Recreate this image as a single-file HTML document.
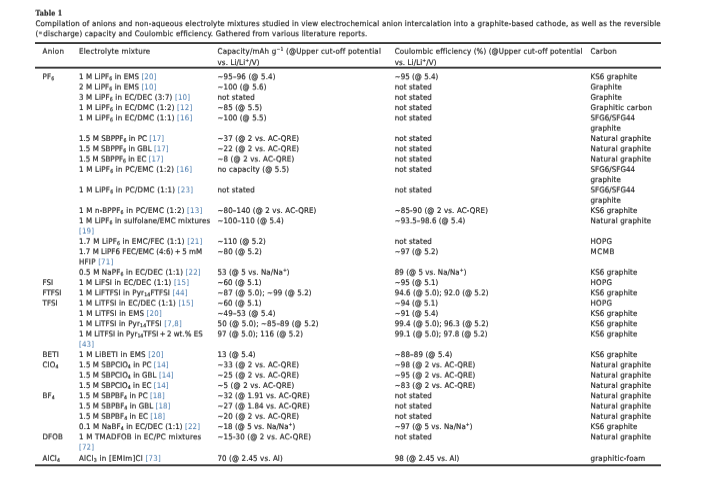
<!DOCTYPE html>
<html><head><meta charset="utf-8"><title>Table 1</title>
<style>
html,body{margin:0;padding:0;background:#fff;}
body{width:704px;height:488px;position:relative;overflow:hidden;font-family:"DejaVu Sans","Liberation Sans",sans-serif;letter-spacing:0.16px;}
.r{position:absolute;left:0;width:704px;height:10px;will-change:transform;transform-origin:0 7.46px;font-size:7.1px;line-height:10px;color:#1e1e1e;-webkit-text-stroke:0.16px #1e1e1e;}
.r.b{font-weight:bold;font-family:"DejaVu Serif Condensed","DejaVu Serif","Liberation Serif",serif;-webkit-text-stroke:0.15px #1e1e1e;}
.r span{position:absolute;top:0;white-space:nowrap;}
.r a{color:#4578ad;-webkit-text-stroke:0;}
.r sub{font-size:4.7px;vertical-align:baseline;position:relative;top:1.15px;line-height:0;}
.r i{font-style:normal;font-size:4.6px;position:relative;top:-0.6px;line-height:0;}
.r sup{font-size:4.6px;vertical-align:baseline;position:relative;top:-2.3px;line-height:0;}
svg.rules{position:absolute;left:0;top:0;}
</style></head><body>
<svg class="rules" width="704" height="488" viewBox="0 0 704 488"><rect x="35" y="42.1" width="626" height="1.9" fill="#3a3a3a"/><rect x="35" y="66.72" width="626" height="1.9" fill="#3a3a3a"/><rect x="35" y="464.35" width="626" height="1.9" fill="#3a3a3a"/></svg>
<div class="r b" style="top:8px;transform:translateY(0.24px) rotate(0.002deg) scaleY(1.08)"><span id="cap0" style="left:35.5px;letter-spacing:0.160px;">Table 1</span></div>
<div class="r " style="top:18px;transform:translateY(0.74px) rotate(0.002deg) scaleY(1.08)"><span id="cap1" style="left:35.5px;letter-spacing:0.164px;">Compilation of anions and non-aqueous electrolyte mixtures studied in view electrochemical anion intercalation into a graphite-based cathode, as well as the reversible</span></div>
<div class="r " style="top:28px;transform:translateY(0.84px) rotate(0.002deg) scaleY(1.08)"><span id="cap2" style="left:35.5px;letter-spacing:0.166px;">(<i>=</i> discharge) capacity and Coulombic efficiency. Gathered from various literature reports.</span></div>
<div class="r " style="top:46px;transform:translateY(0.39px) rotate(0.002deg) scaleY(1.08)"><span id="h0" style="left:42.5px;letter-spacing:0.330px;">Anion</span><span id="h1" style="left:79px;letter-spacing:0.199px;">Electrolyte mixture</span><span id="h2" style="left:217.5px;letter-spacing:0.178px;">Capacity/mAh g<sup>−1</sup> (@Upper cut-off potential</span><span id="h3" style="left:394.75px;letter-spacing:0.135px;">Coulombic efficiency (%) (@Upper cut-off potential</span><span id="h4" style="left:590.5px;">Carbon</span></div>
<div class="r " style="top:57px;transform:translateY(0.64px) rotate(0.002deg) scaleY(1.08)"><span id="h2b" style="left:217.5px;letter-spacing:0.122px;">vs. Li/Li<sup>+</sup>/V)</span><span id="h3b" style="left:394.75px;letter-spacing:0.102px;">vs. Li/Li<sup>+</sup>/V)</span></div>
<div class="r " style="top:71px;transform:translateY(0.84px) rotate(0.002deg) scaleY(1.08)"><span id="r0c0" style="left:42.5px;">PF<sub>6</sub></span><span id="r0c1" style="left:79px;letter-spacing:0.100px;">1 M LiPF<sub>6</sub> in EMS <a>[20]</a></span><span id="r0c2" style="left:217.5px;letter-spacing:0.160px;">~95–96 (@ 5.4)</span><span id="r0c3" style="left:394.75px;letter-spacing:0.024px;">~95 (@ 5.4)</span><span id="r0c4" style="left:590.5px;letter-spacing:0.089px;">KS6 graphite</span></div>
<div class="r " style="top:82px;transform:translateY(0.13px) rotate(0.002deg) scaleY(1.08)"><span id="r1c1" style="left:79px;letter-spacing:0.100px;">2 M LiPF<sub>6</sub> in EMS <a>[10]</a></span><span id="r1c2" style="left:217.5px;letter-spacing:0.098px;">~100 (@ 5.6)</span><span id="r1c3" style="left:394.75px;letter-spacing:0.085px;">not stated</span><span id="r1c4" style="left:590.5px;letter-spacing:0.073px;">Graphite</span></div>
<div class="r " style="top:92px;transform:translateY(0.42px) rotate(0.002deg) scaleY(1.08)"><span id="r2c1" style="left:79px;letter-spacing:0.168px;">3 M LiPF<sub>6</sub> in EC/DEC (3:7) <a>[10]</a></span><span id="r2c2" style="left:217.5px;letter-spacing:0.110px;">not stated</span><span id="r2c3" style="left:394.75px;letter-spacing:0.085px;">not stated</span><span id="r2c4" style="left:590.5px;letter-spacing:0.073px;">Graphite</span></div>
<div class="r " style="top:102px;transform:translateY(0.71px) rotate(0.002deg) scaleY(1.08)"><span id="r3c1" style="left:79px;letter-spacing:0.185px;">1 M LiPF<sub>6</sub> in EC/DMC (1:2) <a>[12]</a></span><span id="r3c2" style="left:217.5px;letter-spacing:0.115px;">~85 (@ 5.5)</span><span id="r3c3" style="left:394.75px;letter-spacing:0.085px;">not stated</span><span id="r3c4" style="left:590.5px;">Graphitic carbon</span></div>
<div class="r " style="top:113px;transform:translateY(0.00px) rotate(0.002deg) scaleY(1.08)"><span id="r4c1" style="left:79px;letter-spacing:0.185px;">1 M LiPF<sub>6</sub> in EC/DMC (1:1) <a>[16]</a></span><span id="r4c2" style="left:217.5px;letter-spacing:0.098px;">~100 (@ 5.5)</span><span id="r4c3" style="left:394.75px;letter-spacing:0.085px;">not stated</span><span id="r4c4" style="left:590.5px;letter-spacing:0.060px;">SFG6/SFG44</span></div>
<div class="r " style="top:123px;transform:translateY(0.29px) rotate(0.002deg) scaleY(1.08)"><span id="r5c4" style="left:590.5px;letter-spacing:0.054px;">graphite</span></div>
<div class="r " style="top:133px;transform:translateY(0.58px) rotate(0.002deg) scaleY(1.08)"><span id="r6c1" style="left:79px;letter-spacing:0.051px;">1.5 M SBPPF<sub>6</sub> in PC <a>[17]</a></span><span id="r6c2" style="left:217.5px;letter-spacing:0.147px;">~37 (@ 2 vs. AC-QRE)</span><span id="r6c3" style="left:394.75px;letter-spacing:0.085px;">not stated</span><span id="r6c4" style="left:590.5px;">Natural graphite</span></div>
<div class="r " style="top:143px;transform:translateY(0.87px) rotate(0.002deg) scaleY(1.08)"><span id="r7c1" style="left:79px;letter-spacing:0.025px;">1.5 M SBPPF<sub>6</sub> in GBL <a>[17]</a></span><span id="r7c2" style="left:217.5px;letter-spacing:0.147px;">~22 (@ 2 vs. AC-QRE)</span><span id="r7c3" style="left:394.75px;letter-spacing:0.085px;">not stated</span><span id="r7c4" style="left:590.5px;">Natural graphite</span></div>
<div class="r " style="top:154px;transform:translateY(0.16px) rotate(0.002deg) scaleY(1.08)"><span id="r8c1" style="left:79px;letter-spacing:0.008px;">1.5 M SBPPF<sub>6</sub> in EC <a>[17]</a></span><span id="r8c2" style="left:217.5px;letter-spacing:0.134px;">~8 (@ 2 vs. AC-QRE)</span><span id="r8c3" style="left:394.75px;letter-spacing:0.085px;">not stated</span><span id="r8c4" style="left:590.5px;">Natural graphite</span></div>
<div class="r " style="top:164px;transform:translateY(0.45px) rotate(0.002deg) scaleY(1.08)"><span id="r9c1" style="left:79px;letter-spacing:0.218px;">1 M LiPF<sub>6</sub> in PC/EMC (1:2) <a>[16]</a></span><span id="r9c2" style="left:217.5px;letter-spacing:0.121px;">no capacity (@ 5.5)</span><span id="r9c3" style="left:394.75px;letter-spacing:0.085px;">not stated</span><span id="r9c4" style="left:590.5px;letter-spacing:0.060px;">SFG6/SFG44</span></div>
<div class="r " style="top:174px;transform:translateY(0.74px) rotate(0.002deg) scaleY(1.08)"><span id="r10c4" style="left:590.5px;letter-spacing:0.054px;">graphite</span></div>
<div class="r " style="top:185px;transform:translateY(0.03px) rotate(0.002deg) scaleY(1.08)"><span id="r11c1" style="left:79px;letter-spacing:0.218px;">1 M LiPF<sub>6</sub> in PC/DMC (1:1) <a>[23]</a></span><span id="r11c2" style="left:217.5px;letter-spacing:0.110px;">not stated</span><span id="r11c3" style="left:394.75px;letter-spacing:0.085px;">not stated</span><span id="r11c4" style="left:590.5px;letter-spacing:0.060px;">SFG6/SFG44</span></div>
<div class="r " style="top:195px;transform:translateY(0.32px) rotate(0.002deg) scaleY(1.08)"><span id="r12c4" style="left:590.5px;letter-spacing:0.054px;">graphite</span></div>
<div class="r " style="top:205px;transform:translateY(0.61px) rotate(0.002deg) scaleY(1.08)"><span id="r13c1" style="left:79px;letter-spacing:0.215px;">1 M n-BPPF<sub>6</sub> in PC/EMC (1:2) <a>[13]</a></span><span id="r13c2" style="left:217.5px;letter-spacing:0.129px;">~80–140 (@ 2 vs. AC-QRE)</span><span id="r13c3" style="left:394.75px;letter-spacing:0.127px;">~85-90 (@ 2 vs. AC-QRE)</span><span id="r13c4" style="left:590.5px;letter-spacing:0.089px;">KS6 graphite</span></div>
<div class="r " style="top:215px;transform:translateY(0.90px) rotate(0.002deg) scaleY(1.08)"><span id="r14c1" style="left:79px;letter-spacing:0.124px;">1 M LiPF<sub>6</sub> in sulfolane/EMC mixtures</span><span id="r14c2" style="left:217.5px;letter-spacing:0.082px;">~100–110 (@ 5.4)</span><span id="r14c3" style="left:394.75px;letter-spacing:0.063px;">~93.5–98.6 (@ 5.4)</span><span id="r14c4" style="left:590.5px;">Natural graphite</span></div>
<div class="r " style="top:226px;transform:translateY(0.19px) rotate(0.002deg) scaleY(1.08)"><span id="r15c1" style="left:79px;"><a>[19]</a></span></div>
<div class="r " style="top:236px;transform:translateY(0.48px) rotate(0.002deg) scaleY(1.08)"><span id="r16c1" style="left:79px;letter-spacing:0.175px;">1.7 M LiPF<sub>6</sub> in EMC/FEC (1:1) <a>[21]</a></span><span id="r16c2" style="left:217.5px;letter-spacing:0.035px;">~110 (@ 5.2)</span><span id="r16c3" style="left:394.75px;letter-spacing:0.085px;">not stated</span><span id="r16c4" style="left:590.5px;letter-spacing:0.285px;">HOPG</span></div>
<div class="r " style="top:246px;transform:translateY(0.77px) rotate(0.002deg) scaleY(1.08)"><span id="r17c1" style="left:79px;letter-spacing:0.027px;">1.7 M LiPF6 FEC/EMC (4:6) + 5 mM</span><span id="r17c2" style="left:217.5px;letter-spacing:0.092px;">~80 (@ 5.2)</span><span id="r17c3" style="left:394.75px;letter-spacing:0.024px;">~97 (@ 5.2)</span><span id="r17c4" style="left:590.5px;letter-spacing:0.635px;">MCMB</span></div>
<div class="r " style="top:257px;transform:translateY(0.06px) rotate(0.002deg) scaleY(1.08)"><span id="r18c1" style="left:79px;letter-spacing:0.216px;">HFIP <a>[71]</a></span></div>
<div class="r " style="top:267px;transform:translateY(0.35px) rotate(0.002deg) scaleY(1.08)"><span id="r19c1" style="left:79px;">0.5 M NaPF<sub>6</sub> in EC/DEC (1:1) <a>[22]</a></span><span id="r19c2" style="left:217.5px;letter-spacing:0.068px;">53 (@ 5 vs. Na/Na<sup>+</sup>)</span><span id="r19c3" style="left:394.75px;letter-spacing:0.042px;">89 (@ 5 vs. Na/Na<sup>+</sup>)</span><span id="r19c4" style="left:590.5px;letter-spacing:0.089px;">KS6 graphite</span></div>
<div class="r " style="top:277px;transform:translateY(0.64px) rotate(0.002deg) scaleY(1.08)"><span id="r20c0" style="left:42.5px;letter-spacing:-0.007px;">FSI</span><span id="r20c1" style="left:79px;">1 M LiFSI in EC/DEC (1:1) <a>[15]</a></span><span id="r20c2" style="left:217.5px;letter-spacing:0.069px;">~60 (@ 5.1)</span><span id="r20c3" style="left:394.75px;letter-spacing:0.024px;">~95 (@ 5.1)</span><span id="r20c4" style="left:590.5px;letter-spacing:0.285px;">HOPG</span></div>
<div class="r " style="top:287px;transform:translateY(0.93px) rotate(0.002deg) scaleY(1.08)"><span id="r21c0" style="left:42.5px;letter-spacing:0.020px;">FTFSI</span><span id="r21c1" style="left:79px;">1 M LiFTFSI in Pyr<sub>14</sub>FTFSI <a>[44]</a></span><span id="r21c2" style="left:217.5px;letter-spacing:0.118px;">~87 (@ 5.0); ~99 (@ 5.2)</span><span id="r21c3" style="left:394.75px;letter-spacing:0.025px;">94.6 (@ 5.0); 92.0 (@ 5.2)</span><span id="r21c4" style="left:590.5px;letter-spacing:0.089px;">KS6 graphite</span></div>
<div class="r " style="top:298px;transform:translateY(0.22px) rotate(0.002deg) scaleY(1.08)"><span id="r22c0" style="left:42.5px;letter-spacing:0.060px;">TFSI</span><span id="r22c1" style="left:79px;">1 M LiTFSI in EC/DEC (1:1) <a>[15]</a></span><span id="r22c2" style="left:217.5px;letter-spacing:0.069px;">~60 (@ 5.1)</span><span id="r22c3" style="left:394.75px;letter-spacing:-0.022px;">~94 (@ 5.1)</span><span id="r22c4" style="left:590.5px;letter-spacing:0.285px;">HOPG</span></div>
<div class="r " style="top:308px;transform:translateY(0.51px) rotate(0.002deg) scaleY(1.08)"><span id="r23c1" style="left:79px;letter-spacing:0.183px;">1 M LiTFSI in EMS <a>[20]</a></span><span id="r23c2" style="left:217.5px;letter-spacing:0.160px;">~49–53 (@ 5.4)</span><span id="r23c3" style="left:394.75px;letter-spacing:0.024px;">~91 (@ 5.4)</span><span id="r23c4" style="left:590.5px;letter-spacing:0.089px;">KS6 graphite</span></div>
<div class="r " style="top:318px;transform:translateY(0.80px) rotate(0.002deg) scaleY(1.08)"><span id="r24c1" style="left:79px;">1 M LiTFSI in Pyr<sub>14</sub>TFSI <a>[7,8]</a></span><span id="r24c2" style="left:217.5px;letter-spacing:0.122px;">50 (@ 5.0); ~85–89 (@ 5.2)</span><span id="r24c3" style="left:394.75px;letter-spacing:0.025px;">99.4 (@ 5.0); 96.3 (@ 5.2)</span><span id="r24c4" style="left:590.5px;letter-spacing:0.089px;">KS6 graphite</span></div>
<div class="r " style="top:329px;transform:translateY(0.09px) rotate(0.002deg) scaleY(1.08)"><span id="r25c1" style="left:79px;letter-spacing:0.003px;">1 M LiTFSI in Pyr<sub>14</sub>TFSI + 2 wt.% ES</span><span id="r25c2" style="left:217.5px;letter-spacing:0.062px;">97 (@ 5.0); 116 (@ 5.2)</span><span id="r25c3" style="left:394.75px;letter-spacing:-0.013px;">99.1 (@ 5.0); 97.8 (@ 5.2)</span><span id="r25c4" style="left:590.5px;letter-spacing:0.089px;">KS6 graphite</span></div>
<div class="r " style="top:339px;transform:translateY(0.38px) rotate(0.002deg) scaleY(1.08)"><span id="r26c1" style="left:79px;"><a>[43]</a></span></div>
<div class="r " style="top:349px;transform:translateY(0.67px) rotate(0.002deg) scaleY(1.08)"><span id="r27c0" style="left:42.5px;">BETI</span><span id="r27c1" style="left:79px;letter-spacing:0.228px;">1 M LiBETI in EMS <a>[20]</a></span><span id="r27c2" style="left:217.5px;letter-spacing:0.060px;">13 (@ 5.4)</span><span id="r27c3" style="left:394.75px;letter-spacing:0.124px;">~88–89 (@ 5.4)</span><span id="r27c4" style="left:590.5px;letter-spacing:0.089px;">KS6 graphite</span></div>
<div class="r " style="top:359px;transform:translateY(0.96px) rotate(0.002deg) scaleY(1.08)"><span id="r28c0" style="left:42.5px;">ClO<sub>4</sub></span><span id="r28c1" style="left:79px;letter-spacing:0.066px;">1.5 M SBPClO<sub>4</sub> in PC <a>[14]</a></span><span id="r28c2" style="left:217.5px;letter-spacing:0.147px;">~33 (@ 2 vs. AC-QRE)</span><span id="r28c3" style="left:394.75px;letter-spacing:0.098px;">~98 (@ 2 vs. AC-QRE)</span><span id="r28c4" style="left:590.5px;">Natural graphite</span></div>
<div class="r " style="top:370px;transform:translateY(0.25px) rotate(0.002deg) scaleY(1.08)"><span id="r29c1" style="left:79px;letter-spacing:0.060px;">1.5 M SBPClO<sub>4</sub> in GBL <a>[14]</a></span><span id="r29c2" style="left:217.5px;letter-spacing:0.147px;">~25 (@ 2 vs. AC-QRE)</span><span id="r29c3" style="left:394.75px;letter-spacing:0.098px;">~95 (@ 2 vs. AC-QRE)</span><span id="r29c4" style="left:590.5px;">Natural graphite</span></div>
<div class="r " style="top:380px;transform:translateY(0.54px) rotate(0.002deg) scaleY(1.08)"><span id="r30c1" style="left:79px;letter-spacing:0.056px;">1.5 M SBPClO<sub>4</sub> in EC <a>[14]</a></span><span id="r30c2" style="left:217.5px;letter-spacing:0.134px;">~5 (@ 2 vs. AC-QRE)</span><span id="r30c3" style="left:394.75px;letter-spacing:0.098px;">~83 (@ 2 vs. AC-QRE)</span><span id="r30c4" style="left:590.5px;">Natural graphite</span></div>
<div class="r " style="top:390px;transform:translateY(0.83px) rotate(0.002deg) scaleY(1.08)"><span id="r31c0" style="left:42.5px;">BF<sub>4</sub></span><span id="r31c1" style="left:79px;letter-spacing:0.051px;">1.5 M SBPBF<sub>4</sub> in PC <a>[18]</a></span><span id="r31c2" style="left:217.5px;letter-spacing:0.095px;">~32 (@ 1.91 vs. AC-QRE)</span><span id="r31c3" style="left:394.75px;letter-spacing:0.085px;">not stated</span><span id="r31c4" style="left:590.5px;">Natural graphite</span></div>
<div class="r " style="top:401px;transform:translateY(0.12px) rotate(0.002deg) scaleY(1.08)"><span id="r32c1" style="left:79px;letter-spacing:0.077px;">1.5 M SBPBF<sub>4</sub> in GBL <a>[18]</a></span><span id="r32c2" style="left:217.5px;letter-spacing:0.095px;">~27 (@ 1.84 vs. AC-QRE)</span><span id="r32c3" style="left:394.75px;letter-spacing:0.085px;">not stated</span><span id="r32c4" style="left:590.5px;">Natural graphite</span></div>
<div class="r " style="top:411px;transform:translateY(0.41px) rotate(0.002deg) scaleY(1.08)"><span id="r33c1" style="left:79px;letter-spacing:0.062px;">1.5 M SBPBF<sub>4</sub> in EC <a>[18]</a></span><span id="r33c2" style="left:217.5px;letter-spacing:0.147px;">~20 (@ 2 vs. AC-QRE)</span><span id="r33c3" style="left:394.75px;letter-spacing:0.085px;">not stated</span><span id="r33c4" style="left:590.5px;">Natural graphite</span></div>
<div class="r " style="top:421px;transform:translateY(0.70px) rotate(0.002deg) scaleY(1.08)"><span id="r34c1" style="left:79px;letter-spacing:0.121px;">0.1 M NaBF<sub>4</sub> in EC/DEC (1:1) <a>[22]</a></span><span id="r34c2" style="left:217.5px;letter-spacing:0.048px;">~18 (@ 5 vs. Na/Na<sup>+</sup>)</span><span id="r34c3" style="left:394.75px;letter-spacing:0.048px;">~97 (@ 5 vs. Na/Na<sup>+</sup>)</span><span id="r34c4" style="left:590.5px;letter-spacing:0.089px;">KS6 graphite</span></div>
<div class="r " style="top:431px;transform:translateY(0.99px) rotate(0.002deg) scaleY(1.08)"><span id="r35c0" style="left:42.5px;">DFOB</span><span id="r35c1" style="left:79px;letter-spacing:0.229px;">1 M TMADFOB in EC/PC mixtures</span><span id="r35c2" style="left:217.5px;letter-spacing:0.138px;">~15-30 (@ 2 vs. AC-QRE)</span><span id="r35c3" style="left:394.75px;letter-spacing:0.085px;">not stated</span><span id="r35c4" style="left:590.5px;">Natural graphite</span></div>
<div class="r " style="top:442px;transform:translateY(0.28px) rotate(0.002deg) scaleY(1.08)"><span id="r36c1" style="left:79px;"><a>[72]</a></span></div>
<div class="r " style="top:453px;transform:translateY(0.47px) rotate(0.002deg) scaleY(1.08)"><span id="r37c0" style="left:42.5px;">AlCl<sub>4</sub></span><span id="r37c1" style="left:79px;letter-spacing:0.240px;">AlCl<sub>3</sub> in [EMIm]Cl <a>[73]</a></span><span id="r37c2" style="left:217.5px;letter-spacing:0.104px;">70 (@ 2.45 vs. Al)</span><span id="r37c3" style="left:394.75px;letter-spacing:0.063px;">98 (@ 2.45 vs. Al)</span><span id="r37c4" style="left:590.5px;letter-spacing:0.210px;">graphitic-foam</span></div>
</body></html>
